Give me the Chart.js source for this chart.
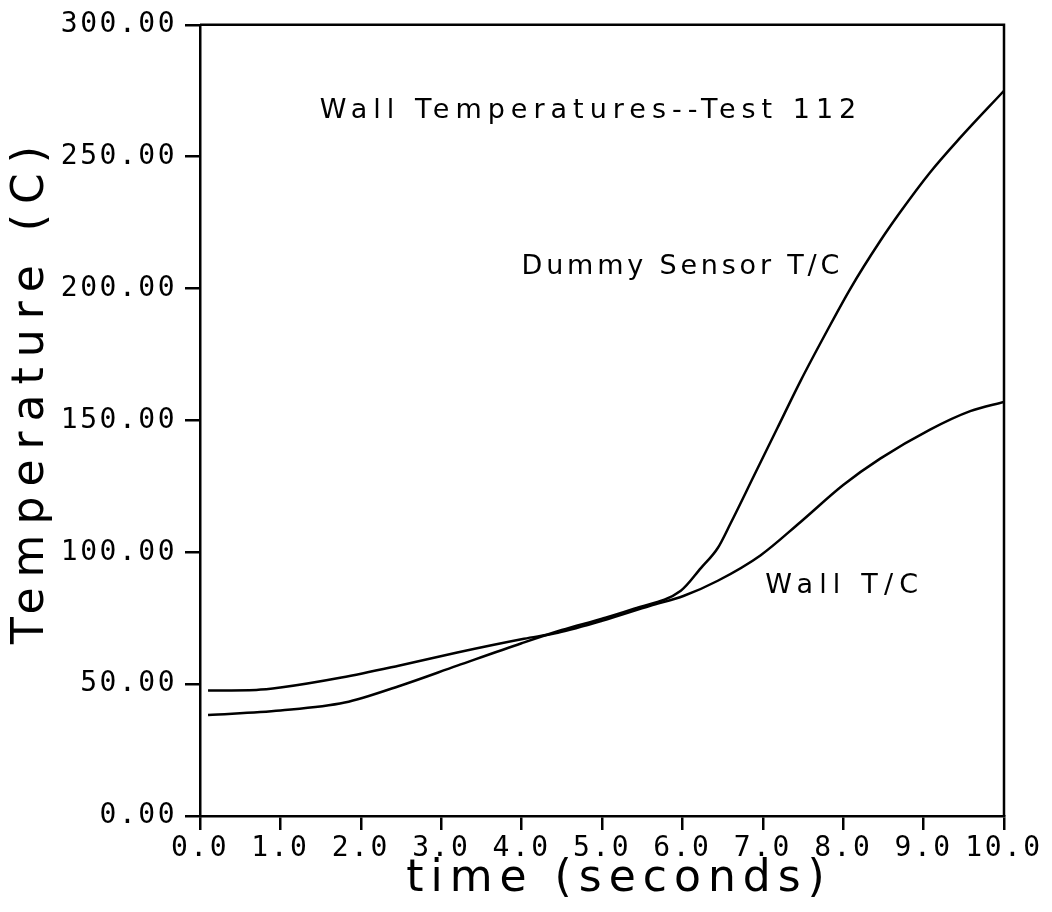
<!DOCTYPE html>
<html>
<head>
<meta charset="utf-8">
<script src="https://cdn.jsdelivr.net/npm/chart.js@4/dist/chart.umd.min.js"></script>
<style>
  html, body { margin: 0; padding: 0; background: #fff; }
  #wrap { width: 1052px; height: 912px; }
</style>
</head>
<body>
<div id="wrap"><canvas id="plot" width="1052" height="912"></canvas></div>
<script>
// time (s) and temperature (C)
const dummyTime = [0.1, 1.0, 1.8, 2.5, 3.2, 4.0, 4.5, 5.0, 5.4, 5.98, 6.23, 6.44, 6.6, 6.89, 7.18, 7.47, 7.8, 8.09, 8.46, 8.71, 9.08, 9.45, 10.0];
const dummyTemp = [38.3, 40.0, 43.0, 49.5, 57.0, 65.5, 70.5, 74.8, 78.6, 85.4, 94.0, 101.6, 111.0, 129.0, 147.0, 165.0, 184.0, 200.0, 218.0, 229.0, 244.0, 257.0, 275.0];

const wallTime = [0.1, 0.7, 1.0, 1.76, 2.47, 3.2, 4.03, 4.45, 5.0, 5.6, 6.02, 6.44, 6.97, 7.47, 8.0, 8.46, 9.08, 9.58, 10.0];
const wallTemp = [47.6, 47.8, 48.7, 52.5, 57.0, 62.0, 67.2, 69.5, 74.0, 79.7, 83.5, 89.2, 98.8, 111.5, 125.5, 135.5, 146.5, 153.5, 157.0];

const xTicks = [0, 1, 2, 3, 4, 5, 6, 7, 8, 9, 10];
const yTicks = [0, 50, 100, 150, 200, 250, 300];

const xTitle = 'time (seconds)';
const yTitle = 'Temperature (C)';

// text written inside the plot: [text, x, y] in data units (left edge, middle)
const notes = [
    ['Wall Temperatures--Test 112', 1.49, 267.5],
    ['Dummy Sensor T/C', 4.0, 208],
    ['Wall T/C', 7.03, 87.3]
];
// letter spacing for each note, px
const noteSpacing = [6, 3.8, 6.2];

function toPoints(xs, ys) {
    return xs.map((x, i) => ({ x: x, y: ys[i] }));
}

const tickFont = { family: 'DejaVu Sans Mono', size: 28 };
const ink = '#000';

// ticks a bit wider, like the plotter lettering
const spacingPlugin = {
    id: 'spacing',
    beforeDraw(chart) {
        chart.ctx.letterSpacing = '2.5px';
    }
};

// frame, axis titles and notes
const textPlugin = {
    id: 'texts',
    afterDraw(chart) {
        const ctx = chart.ctx;
        const area = chart.chartArea;
        const xs = chart.scales.x;
        const ys = chart.scales.y;

        ctx.save();
        ctx.strokeStyle = ink;
        ctx.lineWidth = 2.5;
        ctx.beginPath();
        ctx.moveTo(area.left, area.top);
        ctx.lineTo(area.right, area.top);
        ctx.lineTo(area.right, area.bottom);
        ctx.stroke();

        ctx.fillStyle = ink;
        ctx.textBaseline = 'middle';

        ctx.font = '27px "DejaVu Sans"';
        ctx.textAlign = 'left';
        notes.forEach(([txt, x, y], i) => {
            ctx.letterSpacing = noteSpacing[i] + 'px';
            ctx.fillText(txt, xs.getPixelForValue(x), ys.getPixelForValue(y));
        });

        ctx.font = '44px "DejaVu Sans"';
        ctx.textAlign = 'center';
        ctx.letterSpacing = '7px';
        ctx.fillText(xTitle, (area.left + area.right) / 2 + 17, 880);

        ctx.letterSpacing = '10px';
        ctx.translate(32, 390);
        ctx.rotate(-Math.PI / 2);
        ctx.fillText(yTitle, 0, 0);
        ctx.restore();
    }
};

const ctx = document.getElementById('plot').getContext('2d');
new Chart(ctx, {
    type: 'line',
    data: {
        datasets: [
            {
                label: 'Dummy Sensor T/C',
                data: toPoints(dummyTime, dummyTemp),
                borderColor: ink,
                borderWidth: 2.5,
                pointRadius: 0,
                fill: false,
                cubicInterpolationMode: 'monotone'
            },
            {
                label: 'Wall T/C',
                data: toPoints(wallTime, wallTemp),
                borderColor: ink,
                borderWidth: 2.5,
                pointRadius: 0,
                fill: false,
                cubicInterpolationMode: 'monotone'
            }
        ]
    },
    options: {
        responsive: false,
        animation: false,
        layout: { padding: { top: 22, right: 48, left: 0, bottom: 0 } },
        plugins: {
            legend: { display: false },
            tooltip: { enabled: false }
        },
        scales: {
            x: {
                type: 'linear',
                min: 0,
                max: 10,
                afterBuildTicks: (s) => { s.ticks = xTicks.map(v => ({ value: v })); },
                afterFit: (s) => { s.height = 96; },
                ticks: {
                    callback: (v) => v.toFixed(1),
                    font: tickFont,
                    color: ink,
                    padding: 2,
                    maxRotation: 0,
                    autoSkip: false
                },
                grid: {
                    drawOnChartArea: false,
                    drawTicks: true,
                    tickLength: 14,
                    color: ink,
                    lineWidth: 2.5
                },
                border: { display: true, color: ink, width: 2.5 }
            },
            y: {
                min: 0,
                max: 300,
                afterBuildTicks: (s) => { s.ticks = yTicks.map(v => ({ value: v })); },
                afterFit: (s) => { s.width = 200; },
                ticks: {
                    callback: (v) => v.toFixed(2),
                    font: tickFont,
                    color: ink,
                    padding: 8,
                    autoSkip: false
                },
                grid: {
                    drawOnChartArea: false,
                    drawTicks: true,
                    tickLength: 15,
                    color: ink,
                    lineWidth: 2.5
                },
                border: { display: true, color: ink, width: 2.5 }
            }
        }
    },
    plugins: [spacingPlugin, textPlugin]
});
</script>
</body>
</html>
